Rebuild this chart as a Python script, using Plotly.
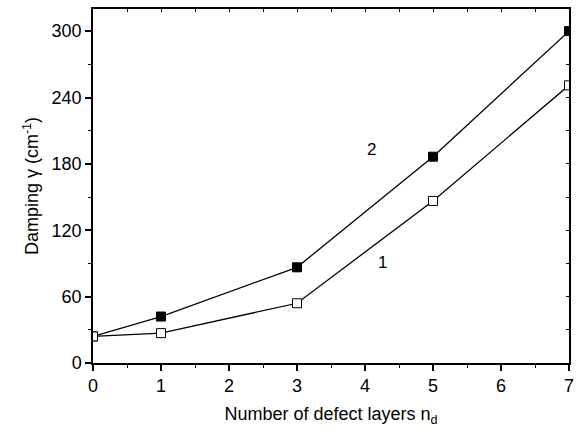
import plotly.graph_objects as go

layers = [0, 1, 3, 5, 7]
damping_1 = [24, 27, 54, 146.5, 251]
damping_2 = [24, 42, 86.5, 186.5, 300]
x_ticks = [0, 1, 2, 3, 4, 5, 6, 7]
y_ticks = [0, 60, 120, 180, 240, 300]

FONT = "Liberation Sans, Arial, sans-serif"

fig = go.Figure()
fig.add_trace(go.Scatter(
    x=layers, y=damping_2, mode="lines+markers",
    line=dict(color="black", width=1.3),
    marker=dict(symbol="square", size=9, color="black", line=dict(color="black", width=1)),
    showlegend=False, cliponaxis=True))
fig.add_trace(go.Scatter(
    x=layers, y=damping_1, mode="lines+markers",
    line=dict(color="black", width=1.3),
    marker=dict(symbol="square", size=9, color="white", line=dict(color="black", width=1)),
    showlegend=False, cliponaxis=True))

# dummy trace for secondary (mirrored) axes
fig.add_trace(go.Scatter(x=[None], y=[None], xaxis="x2", yaxis="y2", showlegend=False, hoverinfo="skip"))

fig.add_annotation(x=4.1, y=193, text="2", showarrow=False, font=dict(family=FONT, size=17, color="black"))
fig.add_annotation(x=4.25, y=91, text="1", showarrow=False, font=dict(family=FONT, size=17, color="black"))

fig.update_layout(
    width=581, height=432,
    margin=dict(l=93, r=12, t=7, b=69),
    paper_bgcolor="white", plot_bgcolor="white",
    font=dict(family=FONT, size=18, color="black"),
    xaxis=dict(
        range=[0, 7], tickvals=x_ticks, ticktext=[str(v) for v in x_ticks],
        showgrid=False, zeroline=False,
        showline=True, linecolor="black", linewidth=1.5, mirror=True,
        ticks="outside", ticklen=6, tickwidth=1.5, tickcolor="black",
        minor=dict(dtick=0.5, ticks="outside", ticklen=3, tickwidth=1.3, tickcolor="black"),
        tickfont=dict(size=18),
        title=dict(text="Number of defect layers n<sub>d</sub>", font=dict(size=18), standoff=12),
    ),
    yaxis=dict(
        range=[0, 320], tickvals=y_ticks, ticktext=[str(v) for v in y_ticks],
        showgrid=False, zeroline=False,
        showline=True, linecolor="black", linewidth=1.5, mirror=True,
        ticks="outside", ticklen=6, tickwidth=1.5, tickcolor="black",
        minor=dict(dtick=30, ticks="outside", ticklen=3, tickwidth=1.3, tickcolor="black"),
        tickfont=dict(size=18),
        title=dict(text="Damping γ (cm<sup>-1</sup>)", font=dict(size=18), standoff=8),
    ),
    xaxis2=dict(
        overlaying="x", side="top", range=[0, 7], dtick=0.5, tick0=0,
        showticklabels=False, showgrid=False, zeroline=False, showline=False,
        ticks="inside", ticklen=3, tickwidth=1.2, tickcolor="black",
    ),
    yaxis2=dict(
        overlaying="y", side="right", range=[0, 320], dtick=30, tick0=0,
        showticklabels=False, showgrid=False, zeroline=False, showline=False,
        ticks="inside", ticklen=3, tickwidth=1.2, tickcolor="black",
    ),
)

fig.write_html("out.html")
